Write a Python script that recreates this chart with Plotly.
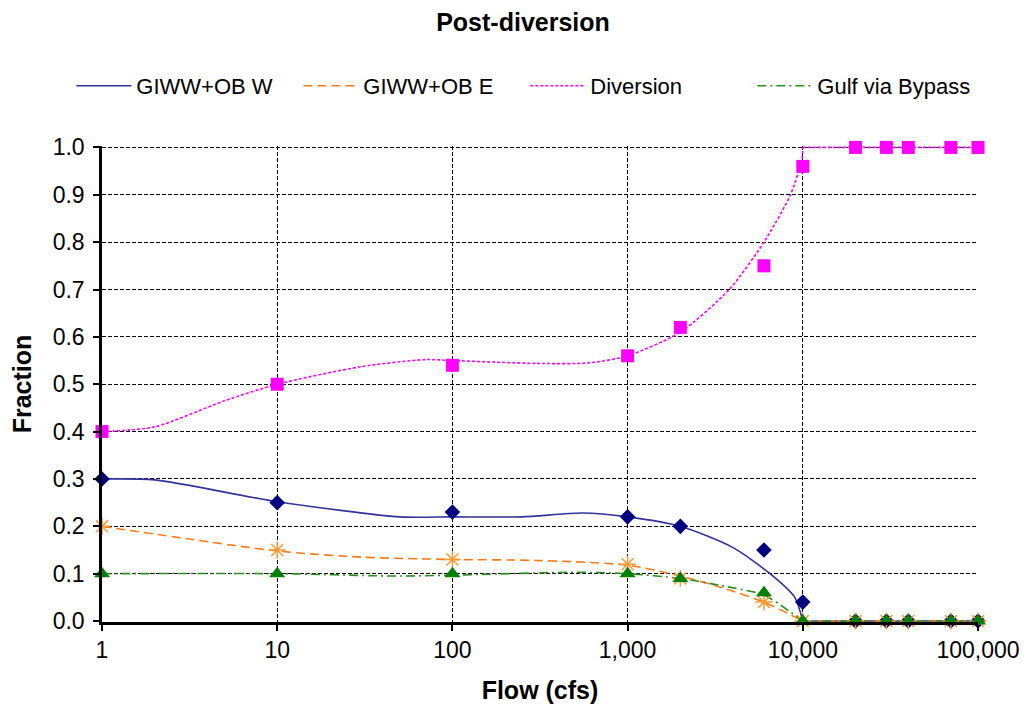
import plotly.graph_objects as go

# ---- data ----
flow_pts = [1, 10, 100, 1000, 2000, 6000, 10000, 20000, 30000, 40000, 70000, 100000]
w_pts = [0.30, 0.25, 0.23, 0.22, 0.20, 0.15, 0.04, 0, 0, 0, 0, 0]
e_pts = [0.20, 0.15, 0.13, 0.12, 0.09, 0.04, 0, 0, 0, 0, 0, 0]
div_pts = [0.40, 0.50, 0.54, 0.56, 0.62, 0.75, 0.96, 1.0, 1.0, 1.0, 1.0, 1.0]
gulf_pts = [0.10, 0.10, 0.10, 0.10, 0.09, 0.06, 0, 0, 0, 0, 0, 0]

# smoothed curves (rising/falling part) and flat tails beyond 10,000 cfs
w_line_x = [1, 2, 10, 50, 100, 250, 550, 1000, 2000, 4000, 6500, 9000, 10000]
w_line_y = [0.30, 0.298, 0.252, 0.22, 0.22, 0.22, 0.228, 0.22, 0.20, 0.155, 0.10, 0.05, 0.0]

e_line_x = [1, 10, 30, 100, 300, 1000, 2000, 3500, 6000, 10000]
e_line_y = [0.20, 0.148, 0.135, 0.13, 0.128, 0.118, 0.095, 0.07, 0.04, 0.0]

div_line_x = [1, 2, 5, 10, 30, 70, 100, 300, 600, 1000, 2000, 3800, 6000, 8500, 9900, 10000]
div_line_y = [0.40, 0.41, 0.465, 0.50, 0.537, 0.552, 0.55, 0.544, 0.545, 0.56, 0.61, 0.70, 0.80, 0.90, 0.975, 1.0]

gulf_line_x = [1, 10, 50, 100, 500, 1000, 2000, 4000, 6000, 10000]
gulf_line_y = [0.10, 0.10, 0.095, 0.097, 0.103, 0.10, 0.09, 0.07, 0.055, 0.0]

tail_x = [10000, 20000, 100000]
w_tail_y = [0.0, 0.0, 0.0]
e_tail_y = [0.0, 0.0, 0.0]
div_tail_y = [1.0, 1.0, 1.0]
gulf_tail_y = [0.0, 0.0, 0.0]

series_names = ["GIWW+OB W", "GIWW+OB E", "Diversion", "Gulf via Bypass"]
x_tickvals = [1, 10, 100, 1000, 10000, 100000]
x_ticktext = ["1", "10", "100", "1,000", "10,000", "100,000"]
y_tickvals = [0.0, 0.1, 0.2, 0.3, 0.4, 0.5, 0.6, 0.7, 0.8, 0.9, 1.0]

FONT = "Liberation Sans, Arial, sans-serif"

fig = go.Figure()

line_specs = [
    (w_line_x, w_line_y, w_tail_y, "#333399", "solid"),
    (e_line_x, e_line_y, e_tail_y, "#FF7A1A", "9px,5px"),
    (div_line_x, div_line_y, div_tail_y, "#FF00FF", "3px,2px"),
    (gulf_line_x, gulf_line_y, gulf_tail_y, "#2E8B22", "9px,4px,2px,4px"),
]
for name, (lx, ly, ty, col, dash) in zip(series_names, line_specs):
    fig.add_trace(go.Scatter(
        x=lx, y=ly, mode="lines", name=name, legendgroup=name,
        line=dict(color=col, dash=dash, width=1.6, shape="spline", smoothing=0.7),
    ))
    fig.add_trace(go.Scatter(
        x=tail_x, y=ty, mode="lines", name=name, legendgroup=name, showlegend=False,
        line=dict(color=col, dash=dash, width=1.6),
    ))

marker_specs = [
    (w_pts, "#000080", "diamond", 12, None),
    (e_pts, "#FF9933", "asterisk-open", 14, "#FF9933"),
    (div_pts, "#FF00FF", "square", 13, None),
    (gulf_pts, "#008000", "triangle-up", 14, None),
]
for name, (ys, col, sym, sz, lc) in zip(series_names, marker_specs):
    mk = dict(color=col, symbol=sym, size=sz)
    if lc:
        mk["line"] = dict(color=lc, width=1.5)
    else:
        mk["line"] = dict(width=0)
    fig.add_trace(go.Scatter(
        x=flow_pts, y=ys, mode="markers", name=name + " data",
        marker=mk, showlegend=False, cliponaxis=False,
    ))

fig.update_layout(
    width=1030, height=715,
    paper_bgcolor="white", plot_bgcolor="white",
    margin=dict(l=94, r=60, t=138, b=101, autoexpand=False),
    font=dict(family=FONT, color="black", size=22),
    title=dict(text="<b>Post-diversion</b>", x=0.5, xref="container", xanchor="center",
               y=0.980, yref="container", yanchor="middle",
               font=dict(size=25, family=FONT, color="black")),
    legend=dict(orientation="h", x=-0.035, xanchor="left",
                y=1.126, yanchor="middle", font=dict(size=22, family=FONT),
                itemwidth=55, entrywidth=157, entrywidthmode="pixels",
                bgcolor="rgba(0,0,0,0)"),
    showlegend=True,
)

fig.update_xaxes(
    type="log", range=[0, 5],
    tickvals=x_tickvals, ticktext=x_ticktext, tickangle=0,
    showgrid=True, gridcolor="black", griddash="4px,2px", gridwidth=1,
    showline=True, linecolor="black", linewidth=2.5,
    ticks="outside", ticklen=6, tickwidth=2, tickcolor="black",
    tickfont=dict(size=23, family=FONT),
    title=dict(text="<b>Flow (cfs)</b>", font=dict(size=25, family=FONT), standoff=20),
    zeroline=False, automargin=False,
)
fig.update_yaxes(
    range=[-0.002, 1.003],
    tickvals=y_tickvals, tickformat=".1f",
    showgrid=True, gridcolor="black", griddash="4px,2px", gridwidth=1,
    showline=True, linecolor="black", linewidth=2.5,
    ticks="outside", ticklen=6, tickwidth=2, tickcolor="black",
    tickfont=dict(size=23, family=FONT), ticklabelstandoff=4,
    title=dict(text="<b>Fraction</b>", font=dict(size=25, family=FONT), standoff=14),
    zeroline=False, automargin=False,
)

fig.write_html("out.html")
